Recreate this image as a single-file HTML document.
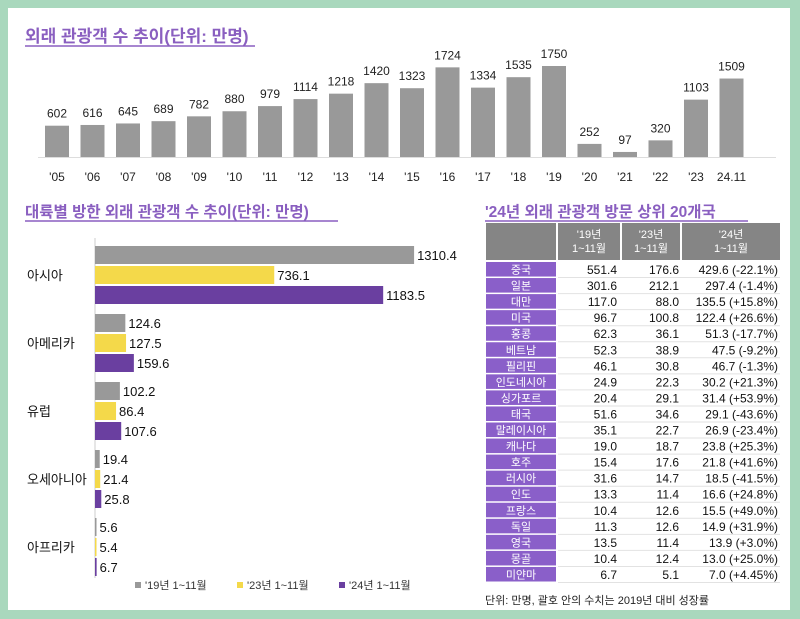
<!DOCTYPE html>
<html><head><meta charset="utf-8">
<style>
html,body{margin:0;padding:0;background:#a9d8bd;}
svg{display:block;font-family:"Liberation Sans","Noto Sans CJK KR",sans-serif;}
</style></head>
<body>
<svg id="c" width="800" height="619" viewBox="0 0 800 619" xmlns="http://www.w3.org/2000/svg">
<rect x="0" y="0" width="800" height="619" fill="#a9d8bd"/>
<rect x="8" y="8" width="782" height="602" fill="#ffffff"/>
<text x="25" y="42" font-size="17" font-weight="bold" fill="#8a5fc0">외래 관광객 수 추이(단위: 만명)</text>
<line x1="25" y1="46" x2="255" y2="46" stroke="#8a5fc0" stroke-width="1.5"/>
<line x1="38" y1="157.5" x2="776" y2="157.5" stroke="#ddd" stroke-width="1"/>
<g id="topchart"></g>
<text x="25" y="217" font-size="15.5" font-weight="bold" fill="#8a5fc0">대륙별 방한 외래 관광객 수 추이(단위: 만명)</text>
<line x1="25" y1="221" x2="338" y2="221" stroke="#8a5fc0" stroke-width="1.5"/>
<line x1="95" y1="238" x2="95" y2="578" stroke="#ccc" stroke-width="1"/>
<g id="regionchart"></g>
<g>
<rect x="135" y="582" width="6" height="6" fill="#999"/>
<text x="145" y="589" font-size="11" fill="#333">'19년 1~11월</text>
<rect x="237" y="582" width="6" height="6" fill="#f4d94a"/>
<text x="247" y="589" font-size="11" fill="#333">'23년 1~11월</text>
<rect x="339" y="582" width="6" height="6" fill="#6a3fa0"/>
<text x="349" y="589" font-size="11" fill="#333">'24년 1~11월</text>
</g>
<text x="485" y="217" font-size="15.5" font-weight="bold" fill="#8a5fc0">'24년 외래 관광객 방문 상위 20개국</text>
<line x1="485" y1="221" x2="748" y2="221" stroke="#8a5fc0" stroke-width="1.5"/>
<g id="tablechart"></g>
<text x="485" y="604" font-size="11" fill="#222">단위: 만명, 괄호 안의 수치는 2019년 대비 성장률</text>
</svg>
<script>
const years=["'05","'06","'07","'08","'09","'10","'11","'12","'13","'14","'15","'16","'17","'18","'19","'20","'21","'22","'23","24.11"];
const visitors=[602,616,645,689,782,880,979,1114,1218,1420,1323,1724,1334,1535,1750,252,97,320,1103,1509];
const regions=["아시아","아메리카","유럽","오세아니아","아프리카"];
const v2019=[1310.4,124.6,102.2,19.4,5.6];
const v2023=[736.1,127.5,86.4,21.4,5.4];
const v2024=[1183.5,159.6,107.6,25.8,6.7];
const countries=["중국","일본","대만","미국","홍콩","베트남","필리핀","인도네시아","싱가포르","태국","말레이시아","캐나다","호주","러시아","인도","프랑스","독일","영국","몽골","미얀마"];
const t2019=["551.4","301.6","117.0","96.7","62.3","52.3","46.1","24.9","20.4","51.6","35.1","19.0","15.4","31.6","13.3","10.4","11.3","13.5","10.4","6.7"];
const t2023=["176.6","212.1","88.0","100.8","36.1","38.9","30.8","22.3","29.1","34.6","22.7","18.7","17.6","14.7","11.4","12.6","12.6","11.4","12.4","5.1"];
const t2024=["429.6 (-22.1%)","297.4 (-1.4%)","135.5 (+15.8%)","122.4 (+26.6%)","51.3 (-17.7%)","47.5 (-9.2%)","46.7 (-1.3%)","30.2 (+21.3%)","31.4 (+53.9%)","29.1 (-43.6%)","26.9 (-23.4%)","23.8 (+25.3%)","21.8 (+41.6%)","18.5 (-41.5%)","16.6 (+24.8%)","15.5 (+49.0%)","14.9 (+31.9%)","13.9 (+3.0%)","13.0 (+25.0%)","7.0 (+4.45%)"];

const NS="http://www.w3.org/2000/svg";
function mk(tag,attrs,parent,txt){const e=document.createElementNS(NS,tag);for(const k in attrs)e.setAttribute(k,attrs[k]);if(txt!==undefined)e.textContent=txt;parent.appendChild(e);return e;}

// top chart
const topG=document.getElementById('topchart');
const base=157, ys=v=>base-v*0.052, xc=i=>57+i*35.5;
visitors.forEach((v,i)=>{
  const r=mk('rect',{x:xc(i)-12,y:ys(v),width:24,height:base-ys(v),fill:'#999'},topG);
  
  
  const t=mk('text',{x:xc(i),y:ys(v)-8,'font-size':12,fill:'#222','text-anchor':'middle'},topG,String(v));
  
  
  const l=mk('text',{x:xc(i),y:181,'font-size':12,fill:'#222','text-anchor':'middle'},topG,years[i]);
  
  
});

// region chart
const regG=document.getElementById('regionchart');
const xs=v=>v*0.2435;
const series=[[v2019,'#999'],[v2023,'#f4d94a'],[v2024,'#6a3fa0']];
regions.forEach((name,g)=>{
  const cy=275+g*68;
  const lt=mk('text',{x:27,y:cy+5,'font-size':13,fill:'#111'},regG,name);
  
  
  series.forEach((s,k)=>{
    const v=s[0][g];
    const y=cy+(k-1)*20-9;
    const w=Math.max(xs(v),1.5);
    const r=mk('rect',{x:95,y:y,width:w,height:18,fill:s[1]},regG);
    
    
    const t=mk('text',{x:95+w+3,y:y+14,'font-size':13,fill:'#111'},regG,v.toFixed(1));
    
    
  });
});

// table
const tabG=document.getElementById('tablechart');
const hdr=[[558,620,"'19년","1~11월"],[622,680,"'23년","1~11월"],[682,780,"'24년","1~11월"]];
const h0=mk('rect',{x:486,y:223,width:70,height:37,fill:'#858585'},tabG);


hdr.forEach(h=>{
  const r=mk('rect',{x:h[0],y:223,width:h[1]-h[0],height:37,fill:'#858585'},tabG);
  
  
  const t1=mk('text',{x:(h[0]+h[1])/2,y:238,'font-size':11,fill:'#fff','text-anchor':'middle'},tabG,h[2]);
  
  
  const t2=mk('text',{x:(h[0]+h[1])/2,y:252,'font-size':11,fill:'#fff','text-anchor':'middle'},tabG,h[3]);
  
  
});
const rh=16.05;
countries.forEach((c,i)=>{
  const y=262+i*rh;
  const r=mk('rect',{x:486,y:y,width:70,height:rh-1.5,fill:'#8a5fc9'},tabG);
  
  
  const tc=mk('text',{x:521,y:y+11.5,'font-size':11,fill:'#fff','text-anchor':'middle'},tabG,c);
  
  
  const ln=mk('line',{x1:558,y1:y+rh-0.5,x2:780,y2:y+rh-0.5,stroke:'#e2e2e2','stroke-width':1},tabG);
  
  
  const a=mk('text',{x:617,y:y+12,'font-size':12,fill:'#111','text-anchor':'end'},tabG,t2019[i]);
  
  
  const b=mk('text',{x:679,y:y+12,'font-size':12,fill:'#111','text-anchor':'end'},tabG,t2023[i]);
  
  
  const d=mk('text',{x:778,y:y+12,'font-size':12,fill:'#111','text-anchor':'end'},tabG,t2024[i]);
  
  
});
</script>
</body></html>
